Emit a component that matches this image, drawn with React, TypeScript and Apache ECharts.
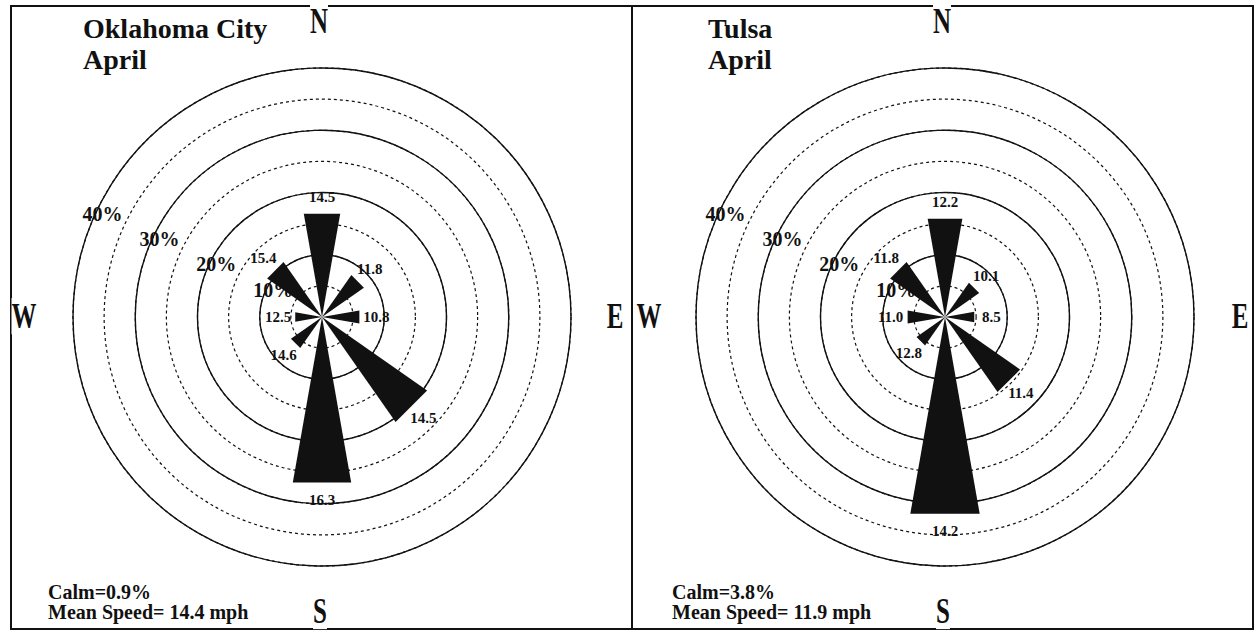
import React, { useEffect, useRef } from "react";
import * as echarts from "echarts";

// ---- data ----
const directions = ["N", "NE", "E", "SE", "S", "SW", "W", "NW"];
const dirAngles = [0, 45, 90, 135, 180, 225, 270, 315];
const okcFreq = [16.6, 8.1, 6.0, 20.3, 26.6, 6.0, 4.3, 10.6];
const okcSpeed = ["14.5", "11.8", "10.8", "14.5", "16.3", "14.6", "12.5", "15.4"];
const tulsaFreq = [15.8, 6.6, 4.7, 14.5, 31.6, 5.5, 6.0, 10.6];
const tulsaSpeed = ["12.2", "10.1", "8.5", "11.4", "14.2", "12.8", "11.0", "11.8"];
const stations = ["Oklahoma City", "Tulsa"];
const months = ["April", "April"];
const calm = ["0.9", "3.8"];
const meanSpeed = ["14.4", "11.9"];
const ringLabels = [10, 20, 30, 40];

const SERIF = '"Liberation Serif", "DejaVu Serif", serif';
const INK = "#111";
const HALF = 10; // half wedge angle (deg)
const RING_LABEL_DIR = 294;

const centers = [[322, 317], [945, 317]];
const R = 249;

function buildPolars() {
  const polar: any[] = [];
  const angleAxis: any[] = [];
  const radiusAxis: any[] = [];
  centers.forEach((c) => {
    [5, 10].forEach((iv) => {
      const idx = polar.length;
      polar.push({ center: c, radius: R });
      angleAxis.push({
        polarIndex: idx, type: "value", min: 0, max: 360, startAngle: 90, clockwise: true,
        axisLine: { show: false }, axisTick: { show: false }, axisLabel: { show: false }, splitLine: { show: false },
      });
      radiusAxis.push({
        polarIndex: idx, type: "value", min: 0, max: 40, interval: iv,
        axisLine: { show: false }, axisTick: { show: false }, axisLabel: { show: false },
        splitLine: { show: true, lineStyle: { color: INK, width: iv === 5 ? 1.2 : 1.4, type: iv === 5 ? [3, 3] : "solid" } },
      });
    });
  });
  return { polar, angleAxis, radiusAxis };
}

function wedgeSeries(polarIndex: number, freq: number[], speed: string[]) {
  const data = freq.map((f, i) => [f, dirAngles[i], speed[i]]);
  return [
    {
      type: "custom", coordinateSystem: "polar", polarIndex, data, z: 5,
      renderItem: (params: any, api: any) => {
        const L = api.value(0);
        const a = api.value(1);
        const c = api.coord([0, a]);
        const rEnd = L / Math.cos((HALF * Math.PI) / 180);
        const p1 = api.coord([rEnd, a - HALF]);
        const p2 = api.coord([rEnd, a + HALF]);
        return { type: "polygon", shape: { points: [c, p1, p2] }, style: { fill: INK } };
      },
    },
    {
      type: "custom", coordinateSystem: "polar", polarIndex, data, z: 6,
      renderItem: (params: any, api: any) => {
        const L = api.value(0);
        const a = api.value(1);
        const c = api.coord([0, a]);
        const t = api.coord([L, a]);
        const dx = t[0] - c[0];
        const dy = t[1] - c[1];
        const d = Math.sqrt(dx * dx + dy * dy) || 1;
        const off = 17;
        return {
          type: "text",
          x: t[0] + (dx / d) * off,
          y: t[1] + (dy / d) * off,
          style: {
            text: speed[params.dataIndex], fill: INK, fontFamily: SERIF, fontSize: 15, fontWeight: "bold",
            align: "center", verticalAlign: "middle",
          },
        };
      },
    },
    {
      type: "custom", coordinateSystem: "polar", polarIndex, z: 6,
      data: ringLabels.map((v) => [v, RING_LABEL_DIR]),
      renderItem: (params: any, api: any) => {
        const p = api.coord([api.value(0), api.value(1)]);
        return {
          type: "text", x: p[0] + 8, y: p[1] - 2,
          style: {
            text: ringLabels[params.dataIndex] + "%", fill: INK, fontFamily: SERIF, fontSize: 20,
            fontWeight: "bold", align: "center", verticalAlign: "middle",
          },
        };
      },
    },
  ];
}

function compass(text: string, x: number, y: number) {
  return {
    type: "text", x, y, scaleY: 1.45, z: 10,
    style: {
      text, fill: INK, fontFamily: SERIF, fontSize: 25, fontWeight: "bold",
      align: "center", verticalAlign: "middle", backgroundColor: "#fff",
    },
  };
}

function panelGraphics(i: number) {
  const tx = i === 0 ? 83 : 708;
  const bx = i === 0 ? 48 : 672;
  const txt = (text: string, x: number, y: number, size: number) => ({
    type: "text", x, y, z: 10,
    style: { text, fill: INK, fontFamily: SERIF, fontSize: size, fontWeight: "bold", align: "left", verticalAlign: "top" },
  });
  return [
    txt(stations[i], tx, 14, 28),
    txt(months[i], tx, 45, 28),
    txt("Calm=" + calm[i] + "%", bx, 582, 20),
    txt("Mean Speed= " + meanSpeed[i] + " mph", bx, 602, 20),
    compass("N", centers[i][0] - 3, 21),
    compass("S", centers[i][0] - 2, 611),
    compass("W", i === 0 ? 24 : 649, 316),
    compass("E", i === 0 ? 615 : 1240, 316),
  ];
}

export default function App() {
  const ref = useRef<HTMLDivElement>(null);
  useEffect(() => {
    if (!ref.current) return;
    const chart = echarts.init(ref.current, undefined, { renderer: "svg" });
    const { polar, angleAxis, radiusAxis } = buildPolars();
    chart.setOption({
      animation: false,
      backgroundColor: "#fff",
      polar, angleAxis, radiusAxis,
      series: [...wedgeSeries(1, okcFreq, okcSpeed), ...wedgeSeries(3, tulsaFreq, tulsaSpeed)],
      graphic: [
        { type: "rect", shape: { x: 11, y: 6, width: 621, height: 623 }, style: { fill: "none", stroke: INK, lineWidth: 2 }, z: 1 },
        { type: "rect", shape: { x: 632, y: 6, width: 621, height: 623 }, style: { fill: "none", stroke: INK, lineWidth: 2 }, z: 1 },
        ...panelGraphics(0),
        ...panelGraphics(1),
      ],
    });
    return () => chart.dispose();
  }, []);
  return <div ref={ref} style={{ position: "absolute", left: 0, top: 0, width: 1255, height: 630 }} />;
}
